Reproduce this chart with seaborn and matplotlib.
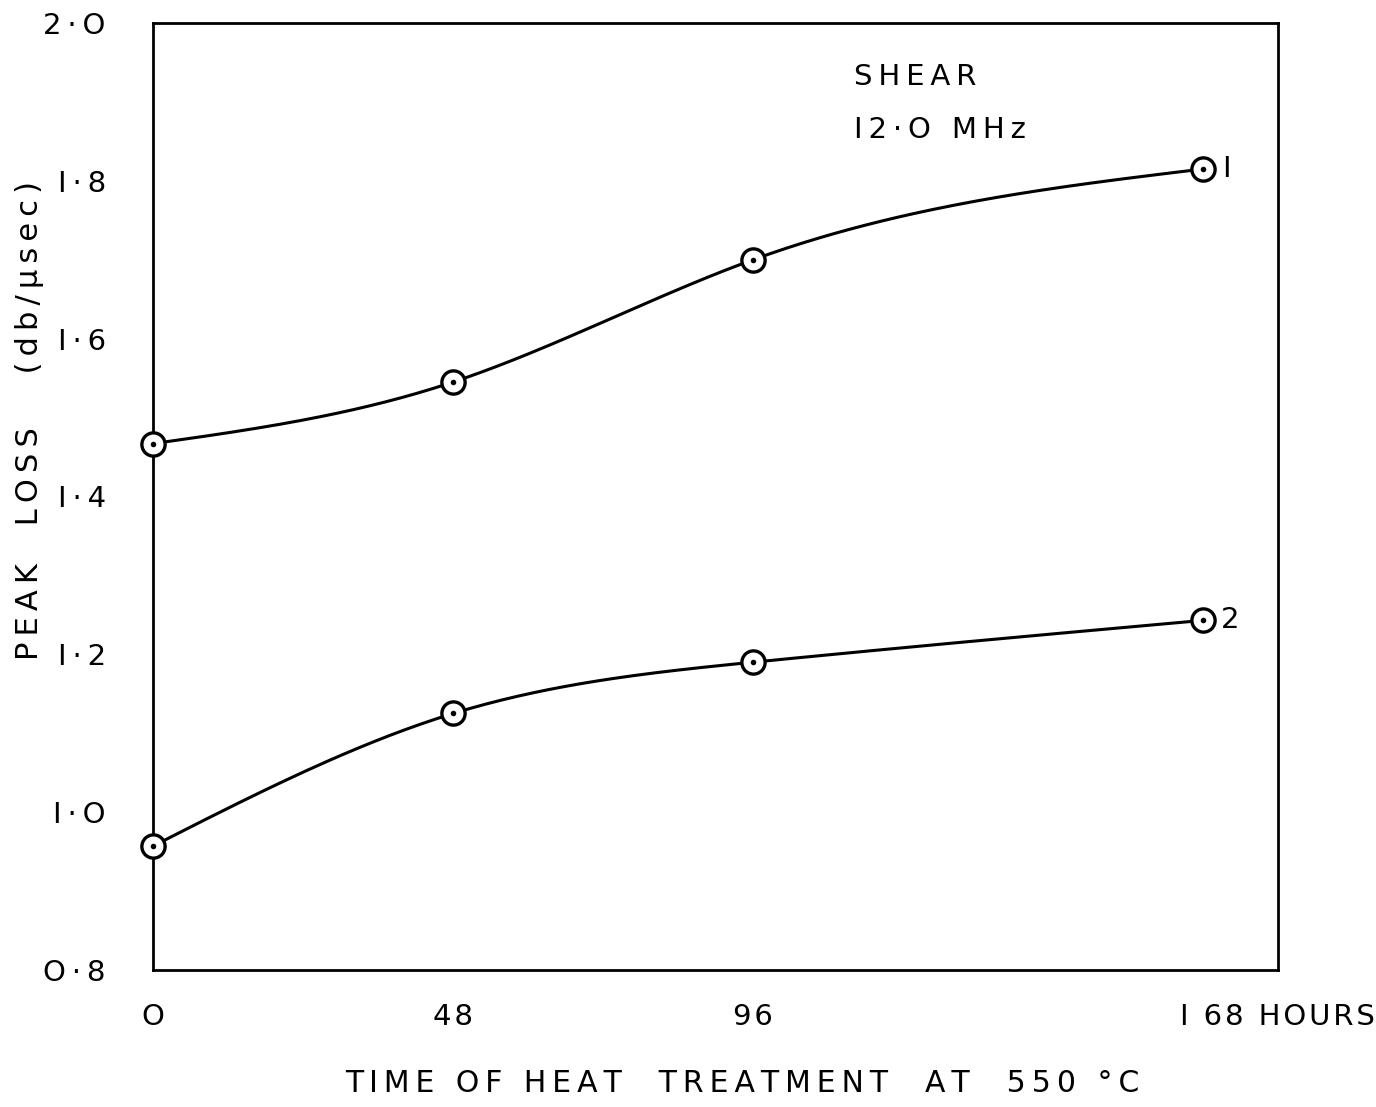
import numpy as np
import pandas as pd
import matplotlib
matplotlib.use("Agg")
import matplotlib.pyplot as plt
import matplotlib.transforms as mtransforms
import seaborn as sns

# --- dados ---
horas = [0, 48, 96, 168]
perda_1 = [1.467, 1.545, 1.700, 1.815]
perda_2 = [0.957, 1.125, 1.190, 1.243]
rotulos_x = ["O", "48", "96", "I 68 HOURS"]
ticks_y = [0.8, 1.0, 1.2, 1.4, 1.6, 1.8, 2.0]
rotulos_y = ["O·8", "I·O", "I·2", "I·4", "I·6", "I·8", "2·O"]

df = pd.DataFrame({
    "horas": horas * 2,
    "perda": perda_1 + perda_2,
    "curva": ["1"] * 4 + ["2"] * 4,
})

sns.set_theme(style="white")
plt.rcParams["font.family"] = ["DejaVu Sans"]
plt.rcParams["text.color"] = "black"
plt.rcParams["axes.labelcolor"] = "black"

FINO = "\u2009"    # thin space
CABELO = "\u200a"  # hair space


def espacar(texto, esp=FINO):
    # espaçamento entre letras, como nas letras de normógrafo do original
    return esp.join(texto)


def spline_natural(x, y, n=200):
    # curva suave que passa pelos pontos (spline cúbica natural)
    x = np.asarray(x, float)
    y = np.asarray(y, float)
    k = len(x)
    h = np.diff(x)
    A = np.zeros((k, k))
    b = np.zeros(k)
    A[0, 0] = A[-1, -1] = 1
    for i in range(1, k - 1):
        A[i, i - 1] = h[i - 1]
        A[i, i] = 2 * (h[i - 1] + h[i])
        A[i, i + 1] = h[i]
        b[i] = 6 * ((y[i + 1] - y[i]) / h[i] - (y[i] - y[i - 1]) / h[i - 1])
    M = np.linalg.solve(A, b)
    xs = np.linspace(x[0], x[-1], n)
    idx = np.clip(np.searchsorted(x, xs) - 1, 0, k - 2)
    x0, x1 = x[idx], x[idx + 1]
    hh = x1 - x0
    t0, t1 = x1 - xs, xs - x0
    ys = (M[idx] * t0**3 + M[idx + 1] * t1**3) / (6 * hh) \
        + (y[idx] / hh - M[idx] * hh / 6) * t0 \
        + (y[idx + 1] / hh - M[idx + 1] * hh / 6) * t1
    return xs, ys


fig = plt.figure(figsize=(13.76, 11.07), dpi=100)
ax = fig.add_axes([0.1112, 0.1238, 0.8176, 0.8554])

for nome, g in df.groupby("curva"):
    xs, ys = spline_natural(g["horas"], g["perda"])
    ax.plot(xs, ys, color="black", linewidth=2.2, zorder=2)

sns.scatterplot(data=df, x="horas", y="perda", ax=ax, marker="o", s=280,
                facecolor="white", edgecolor="black", linewidth=2.4,
                legend=False, zorder=3, clip_on=False)
sns.scatterplot(data=df, x="horas", y="perda", ax=ax, marker="o", s=16,
                color="black", linewidth=0, legend=False, zorder=4,
                clip_on=False)

ax.set_xlim(0, 180)
ax.set_ylim(0.8, 2.0)
ax.set_xticks(horas)
ax.set_xticklabels([espacar(r, CABELO) for r in rotulos_x])
ax.set_yticks(ticks_y)
ax.set_yticklabels([espacar(r) for r in rotulos_y])
ax.tick_params(axis="both", direction="in", length=6, width=1.5,
               labelsize=21, colors="black")
ax.tick_params(axis="y", pad=34)
ax.tick_params(axis="x", pad=24)

# último rótulo do eixo x ("168 HOURS") deslocado para a direita
ultimo = ax.get_xticklabels()[-1]
ultimo.set_horizontalalignment("left")
ultimo.set_transform(ultimo.get_transform() +
                     mtransforms.ScaledTranslation(-0.23, 0, fig.dpi_scale_trans))

for lado in ax.spines.values():
    lado.set_color("black")
    lado.set_linewidth(2.0)

ax.set_xlabel(espacar("TIME OF HEAT  TREATMENT  AT  550 °C"), fontsize=21.5)
ax.xaxis.set_label_coords(0.524, -0.105)
ax.set_ylabel(espacar("PEAK  LOSS   (db/μsec)"), fontsize=22)
ax.yaxis.set_label_coords(-0.097, 0.58)

ax.text(0.623, 0.943, espacar("SHEAR"), transform=ax.transAxes, fontsize=21,
        va="center", ha="left")
ax.text(0.623, 0.887, espacar("I2·O MHz"), transform=ax.transAxes,
        fontsize=21, va="center", ha="left")
ax.annotate("I", (horas[-1], perda_1[-1]), xytext=(14, 0),
            textcoords="offset points", fontsize=21, va="center")
ax.annotate("2", (horas[-1], perda_2[-1]), xytext=(13, 0),
            textcoords="offset points", fontsize=21, va="center")

fig.savefig("out.png", dpi=100, facecolor="white")
